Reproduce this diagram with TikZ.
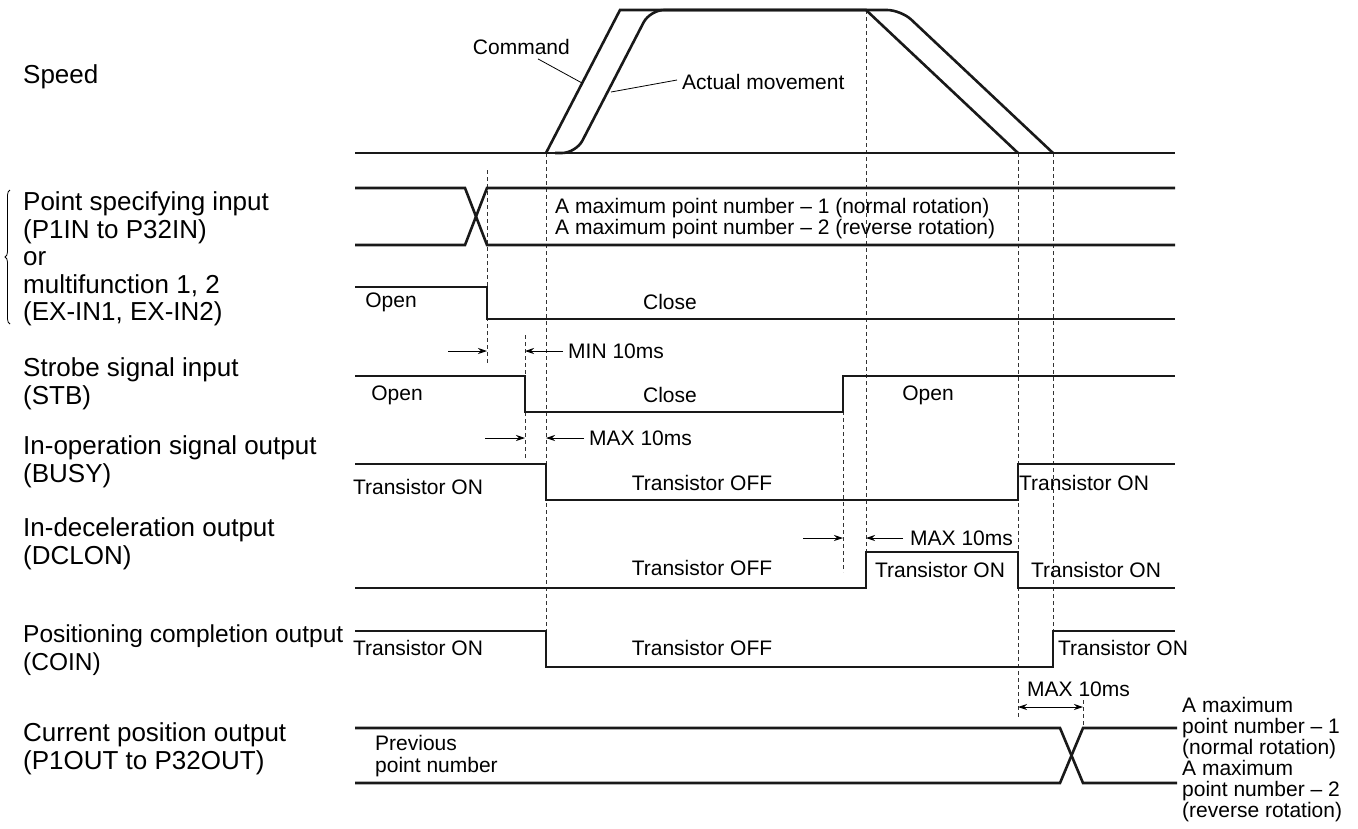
\documentclass[tikz,border=0pt]{standalone}
\usepackage{fontspec}
\setmainfont{Liberation Sans}
\usetikzlibrary{arrows.meta}
\usetikzlibrary{decorations.pathreplacing}
\usetikzlibrary{calc}
\tikzstyle{sig}    = [line width=2.6pt, line join=miter, draw=black!90]
\tikzstyle{guide}  = [line width=0.8pt, dash pattern=on 4pt off 3pt, draw=black!80]
\tikzstyle{meas}   = [line width=0.9pt, -{Stealth[length=9pt,width=6pt]}]
\tikzstyle{leader} = [line width=0.8pt]
\tikzstyle{signame}= [anchor=west, inner sep=0pt, align=left, font=\fontsize{26}{27.5}\selectfont]
\tikzstyle{lvl}    = [inner sep=0pt, font=\fontsize{21}{22}\selectfont]
\tikzstyle{endlbl} = [anchor=west, inner sep=0pt, align=left, font=\fontsize{21}{21}\selectfont]

\begin{document}
\begin{tikzpicture}[x=1pt,y=-1pt]
    \useasboundingbox (0,0) rectangle (1358,828);
% signal names
    \node[signame] (nspeed) at (23,77) {Speed};
    \node[signame] (npoint) at (23,259) {Point specifying input\\(P1IN to P32IN)\\or\\multifunction 1, 2\\(EX-IN1, EX-IN2)};
    \draw[leader, decorate, decoration={brace, amplitude=5pt}] (10,324) -- (10,190);
    \node[signame] (nstb) at (23,384) {Strobe signal input\\(STB)};
    \node[signame] (nbusy) at (23,462) {In-operation signal output\\(BUSY)};
    \node[signame] (ndclon) at (23,544) {In-deceleration output\\(DCLON)};
    \node[signame, font=\fontsize{24.5}{28}\selectfont] (ncoin) at (23,650) {Positioning completion output\\(COIN)};
    \node[signame] (npos) at (23,749) {Current position output\\(P1OUT to P32OUT)};

% guide lines
    \draw[guide] (487,170) -- (487,363);
    \draw[guide] (525,335) -- (525,458);
    \draw[guide] (546,153) -- (546,667);
    \draw[guide] (843,376) -- (843,572);
    \draw[guide] (866,10) -- (866,588);
    \draw[guide] (1018,153) -- (1018,718);
    \draw[guide] (1053,153) -- (1053,631);
    \draw[guide] (1083,700) -- (1083,728);

% speed
    \draw[sig] (355,153) -- (1175,153);
    \draw[sig] (546,153) -- (620,10) -- (866,10) -- (1018,153);
    \draw[sig, rounded corners=14pt] (555,153) -- (576,153) -- (650,10) -- (901,10) -- (1053,153);
    \node[lvl, anchor=east] (cmdlbl) at (570,47) {Command};
    \coordinate (cmdpt) at (582,83);
    \draw[leader] ($(cmdlbl.south east)+(-32,4)$) -- (cmdpt);
    \node[lvl, anchor=west] (actlbl) at (682,82) {Actual movement};
    \coordinate (actpt) at (611,92);
    \draw[leader] ($(actlbl.west)+(-5,-2)$) -- (actpt);

% point specifying input / multifunction
    \draw[sig] (355,188) -- +(110,0) -- +(132,57) -- +(820,57);
    \draw[sig] (355,245) -- +(110,0) -- +(132,-57) -- +(820,-57);
    \node[lvl, anchor=west] (pmax1) at (555,208) {A maximum point number -- 1 (normal rotation)};
    \node[lvl, anchor=west] (pmax2) at (555,229) {A maximum point number -- 2 (reverse rotation)};
    \draw[sig] (355,287) -- +(132,0) -- +(132,32) -- +(820,32);
    \node[lvl] (mfopen) at (391,302) {Open};
    \node[lvl] (mfclose) at (670,302) {Close};
    \draw[meas] (448,351) -- (487,351);
    \draw[meas] (563,351) -- (525,351);
    \node[lvl, anchor=west] (minlbl) at (568,351) {MIN 10ms};

% strobe
    \draw[sig] (355,376) -- +(170,0) -- +(170,36) -- +(488,36) -- +(488,0) -- +(820,0);
    \node[lvl] (stbopen1) at (397,395) {Open};
    \node[lvl] (stbclose) at (670,395) {Close};
    \node[lvl] (stbopen2) at (928,395) {Open};
    \draw[meas] (485,438) -- (525,438);
    \draw[meas] (584,438) -- (546,438);
    \node[lvl, anchor=west] (maxlbla) at (589,438) {MAX 10ms};

% busy
    \draw[sig] (355,464) -- +(191,0) -- +(191,36) -- +(663,36) -- +(663,0) -- +(820,0);
    \node[lvl] (busyon1) at (418,487) {Transistor ON};
    \node[lvl] (busyoff) at (702,483) {Transistor OFF};
    \node[lvl] (busyon2) at (1084,483) {Transistor ON};
    \draw[meas] (803,538) -- (843,538);
    \draw[meas] (903,538) -- (866,538);
    \node[lvl, anchor=west] (maxlblb) at (910,538) {MAX 10ms};

% dclon
    \draw[sig] (355,588) -- +(511,0) -- +(511,-36) -- +(663,-36) -- +(663,0) -- +(820,0);
    \node[lvl] (dcloff) at (702,568) {Transistor OFF};
    \node[lvl] (dclon1) at (940,570) {Transistor ON};
    \node[lvl] (dclon2) at (1096,570) {Transistor ON};

% coin
    \draw[sig] (355,631) -- +(191,0) -- +(191,36) -- +(698,36) -- +(698,0) -- +(820,0);
    \node[lvl] (coinon1) at (418,648) {Transistor ON};
    \node[lvl] (coinoff) at (702,648) {Transistor OFF};
    \node[lvl] (coinon2) at (1123,648) {Transistor ON};
    \draw[line width=0.9pt, {Stealth[length=9pt,width=6pt]}-{Stealth[length=9pt,width=6pt]}] (1018,707) -- (1083,707);
    \node[lvl, anchor=west] (maxlblc) at (1027,689) {MAX 10ms};

% current position
    \draw[sig] (355,728) -- +(705,0) -- +(728,55) -- +(822,55);
    \draw[sig] (355,783) -- +(705,0) -- +(728,-55) -- +(822,-55);
    \node[lvl, anchor=west, align=left] (prevpt) at (375,756) {Previous\\point number};
    \node[endlbl] (posmax1) at (1182,728) {A maximum\\point number -- 1\\(normal rotation)};
    \node[endlbl] (posmax2) at (1182,791) {A maximum\\point number -- 2\\(reverse rotation)};
\end{tikzpicture}
\end{document}
